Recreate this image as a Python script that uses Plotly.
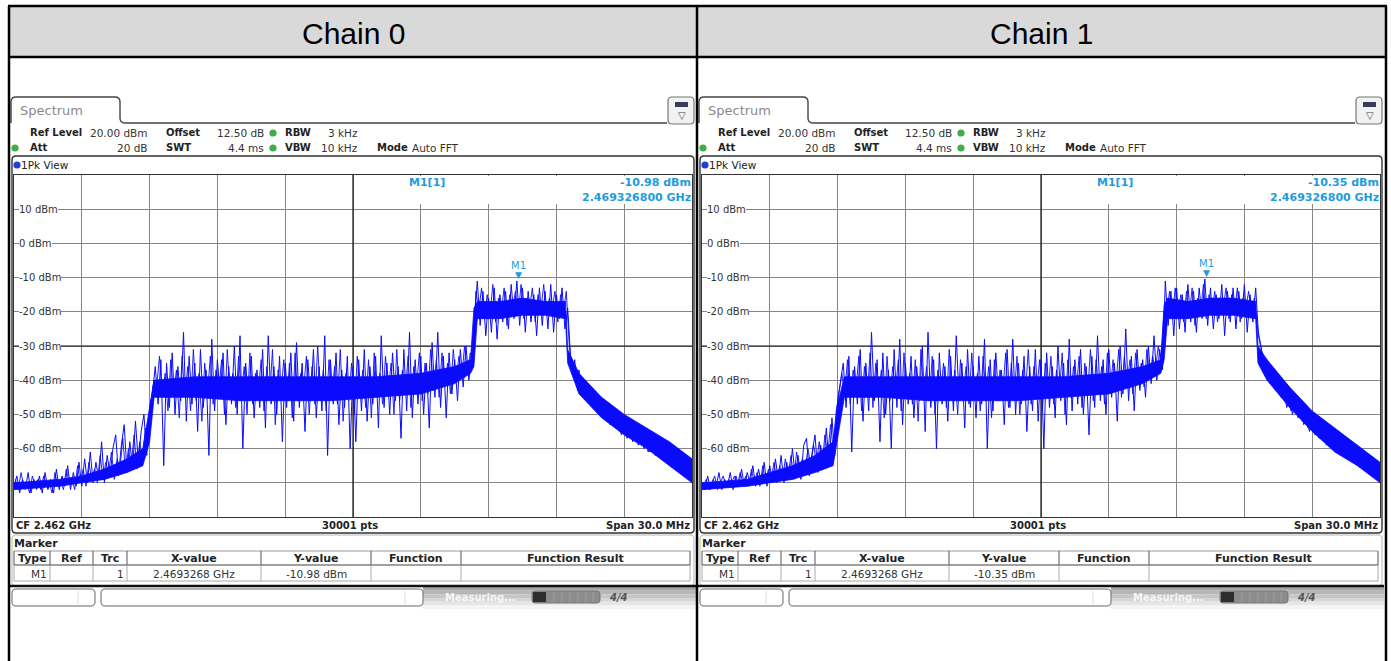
import plotly.graph_objects as go

W, H = 1391, 661
FONT = "DejaVu Sans"

# ---------------- data ----------------
chain_titles = ["Chain 0", "Chain 1"]
center_freq_ghz = 2.462
span_mhz = 30.0
sweep_points_label = "30001 pts"
ref_level_dbm = 20.0
y_bottom_dbm = -80.0
y_label_values = [10, 0, -10, -20, -30, -40, -50, -60]
marker_freq_ghz = [2.4693268, 2.4693268]
marker_level_dbm = [-10.98, -10.35]

# peak-detector trace (peaks and dips), evenly spread over the span
trace_chain0_dbm = [
    -71, -68, -73, -69, -72, -67, -73, -69, -72, -68,
    -73, -67, -72, -69, -73, -66, -72, -68, -71, -65,
    -72, -67, -71, -64, -71, -63, -70, -61, -70, -64,
    -69, -58, -70, -62, -68, -60, -56, -68, -59, -53,
    -67, -58, -66, -52, -64, -55, -50, -62, -48, -44,
    -36, -47, -34, -65, -35, -48, -32, -50, -36, -46,
    -26, -52, -33, -47, -35, -55, -31, -48, -37, -62,
    -28, -49, -34, -45, -32, -53, -36, -47, -30, -50,
    -27, -60, -35, -46, -33, -51, -37, -48, -31, -54,
    -27, -47, -36, -50, -33, -58, -35, -46, -32, -52,
    -29, -48, -35, -55, -34, -46, -31, -51, -36, -49,
    -27, -62, -34, -47, -32, -53, -37, -48, -33, -60,
    -36, -58, -34, -49, -31, -52, -36, -47, -33, -54,
    -27, -48, -35, -50, -32, -46, -36, -57, -31, -49,
    -26, -51, -34, -47, -33, -50, -35, -54, -29, -45,
    -26, -48, -33, -51, -32, -44, -34, -46, -31, -42,
    -30, -40, -33, -21, -11, -24, -14, -27, -16, -26,
    -13, -28, -15, -23, -14, -25, -12, -22, -11, -24,
    -13, -26, -14, -23, -15, -27, -13, -24, -14, -25,
    -12, -26, -15, -22, -13, -25, -19, -33, -36, -40,
    -37, -44, -40, -46, -42, -48, -44, -50, -46, -51,
    -47, -53, -49, -54, -50, -56, -51, -57, -53, -58,
    -54, -59, -55, -60, -56, -61, -57, -62, -58, -63,
    -59, -64, -60, -65, -61, -66, -62, -67, -63, -69,
    -66,
]
# in-between samples (half a step later)
trace_chain0_mid_dbm = [
    -69, -72, -67, -71, -70, -73, -68, -71, -69, -72,
    -68, -71, -70, -73, -67, -71, -69, -72, -66, -70,
    -69, -72, -65, -70, -66, -71, -64, -69, -66, -70,
    -62, -69, -64, -67, -61, -69, -63, -66, -57, -67,
    -60, -65, -56, -66, -58, -63, -54, -57, -46, -40,
    -42, -33, -45, -38, -49, -34, -44, -37, -51, -33,
    -45, -36, -49, -31, -46, -38, -52, -35, -44, -33,
    -47, -37, -43, -34, -50, -31, -45, -38, -48, -33,
    -44, -36, -50, -32, -47, -38, -43, -34, -49, -36,
    -45, -31, -53, -37, -44, -34, -48, -35, -51, -32,
    -46, -38, -43, -33, -50, -36, -47, -30, -45, -37,
    -49, -34, -44, -36, -47, -31, -52, -38, -46, -35,
    -50, -33, -44, -37, -48, -34, -51, -32, -45, -38,
    -47, -33, -43, -35, -50, -31, -46, -37, -44, -33,
    -48, -36, -42, -32, -46, -35, -44, -31, -43, -34,
    -45, -32, -41, -35, -44, -31, -40, -33, -39, -30,
    -38, -32, -35, -14, -20, -13, -22, -15, -21, -12,
    -23, -16, -20, -13, -24, -15, -19, -14, -21, -12,
    -22, -16, -19, -13, -23, -15, -20, -12, -21, -16,
    -19, -14, -23, -15, -20, -14, -29, -38, -34, -43,
    -40, -42, -44, -43, -46, -45, -48, -47, -50, -48,
    -52, -50, -53, -52, -55, -53, -56, -55, -57, -56,
    -58, -57, -59, -58, -61, -59, -60, -61, -62, -61,
    -63, -62, -64, -63, -65, -64, -66, -65, -68, -67,
]

trace_chain1_dbm = [
    -70, -72, -68, -72, -69, -71, -67, -72, -69, -71,
    -67, -72, -68, -71, -66, -71, -67, -70, -65, -71,
    -66, -70, -64, -71, -65, -70, -63, -69, -62, -70,
    -64, -69, -60, -68, -62, -69, -59, -57, -68, -61,
    -56, -67, -59, -66, -54, -65, -51, -62, -46, -40,
    -35, -48, -33, -61, -36, -47, -31, -52, -35, -49,
    -26, -46, -34, -58, -32, -50, -37, -60, -31, -48,
    -28, -53, -35, -47, -33, -51, -36, -46, -30, -55,
    -26, -48, -34, -60, -32, -47, -36, -52, -33, -49,
    -27, -46, -35, -54, -31, -48, -36, -51, -33, -47,
    -28, -60, -34, -49, -32, -46, -37, -53, -31, -48,
    -28, -50, -35, -47, -33, -55, -36, -49, -31, -52,
    -34, -60, -32, -48, -36, -51, -30, -46, -35, -53,
    -28, -49, -34, -47, -31, -50, -36, -56, -33, -48,
    -27, -46, -34, -50, -31, -45, -35, -52, -30, -44,
    -25, -46, -33, -49, -31, -43, -34, -45, -30, -41,
    -27, -40, -31, -37, -11, -24, -14, -27, -13, -25,
    -15, -26, -12, -23, -14, -26, -13, -22, -10.4, -24,
    -13, -25, -15, -22, -12, -27, -14, -23, -13, -25,
    -14, -22, -12, -26, -15, -23, -13, -27, -31, -37,
    -34, -40, -37, -42, -40, -45, -43, -48, -45, -50,
    -46, -51, -48, -53, -50, -55, -51, -56, -52, -57,
    -54, -59, -55, -60, -56, -61, -57, -62, -58, -63,
    -59, -64, -60, -65, -61, -66, -63, -67, -64, -69,
    -66,
]
trace_chain1_mid_dbm = [
    -71, -69, -72, -70, -68, -72, -70, -68, -71, -69,
    -70, -68, -71, -67, -70, -68, -71, -66, -70, -67,
    -71, -65, -70, -66, -69, -64, -70, -65, -69, -63,
    -68, -62, -69, -61, -67, -63, -66, -60, -65, -59,
    -64, -58, -65, -56, -62, -53, -60, -49, -44, -38,
    -44, -34, -47, -37, -43, -33, -49, -36, -45, -32,
    -48, -35, -44, -37, -51, -33, -46, -36, -43, -34,
    -49, -32, -45, -38, -47, -34, -52, -31, -44, -36,
    -46, -33, -50, -37, -44, -35, -48, -31, -45, -37,
    -50, -34, -43, -36, -47, -32, -45, -38, -49, -33,
    -44, -36, -51, -34, -46, -37, -43, -32, -48, -35,
    -45, -33, -50, -37, -44, -31, -47, -36, -43, -34,
    -49, -35, -45, -33, -47, -37, -44, -32, -50, -34,
    -45, -36, -43, -33, -48, -35, -44, -31, -46, -34,
    -43, -36, -47, -32, -44, -34, -42, -31, -45, -33,
    -41, -34, -44, -32, -40, -35, -42, -31, -39, -33,
    -37, -30, -35, -20, -21, -14, -22, -13, -20, -15,
    -23, -14, -21, -13, -24, -16, -20, -12, -22, -15,
    -21, -14, -23, -16, -19, -13, -22, -15, -20, -13,
    -23, -16, -19, -14, -21, -16, -24, -29, -33, -36,
    -39, -38, -41, -41, -44, -44, -46, -46, -49, -48,
    -50, -49, -52, -51, -54, -53, -55, -54, -57, -55,
    -58, -57, -59, -58, -60, -59, -61, -61, -62, -62,
    -63, -63, -64, -64, -65, -65, -66, -66, -68, -67,
]
traces_dbm = [trace_chain0_dbm, trace_chain1_dbm]
traces_mid_dbm = [trace_chain0_mid_dbm, trace_chain1_mid_dbm]

# dense core of the trace (offset from CF in MHz, upper / lower edge in dBm)
core0_offset_mhz = [-15, -13, -12, -11, -10, -9.3, -9.0, -8.8, -7, -5, -3, -1, 1, 3, 4.5,
                    5.2, 5.35, 5.5, 6.5, 7.5, 8.5, 9.4, 9.5, 10, 11, 12, 13, 14, 15]
core0_upper_dbm = [-70, -69, -68, -66, -63, -60, -48, -40, -39, -39, -39, -39, -39, -38, -36,
                   -34, -19, -17, -17, -16, -17, -17, -31, -38, -45, -50, -54, -58, -63]
core0_lower_dbm = [-72, -71, -70, -69, -67, -65, -58, -45, -45, -46, -46, -46, -45, -44, -41,
                   -38, -36, -22, -22, -21, -21, -22, -35, -44, -51, -56, -60, -65, -70]

core1_offset_mhz = [-15, -13, -12, -11, -10, -9.2, -9.0, -8.7, -7, -5, -3, -1, 1, 3, 4.5,
                    5.3, 5.45, 5.6, 6.5, 7.5, 8.5, 9.5, 9.6, 10, 11, 12, 13, 14, 15]
core1_upper_dbm = [-70, -69, -67, -65, -62, -58, -47, -39, -39, -39, -39, -39, -39, -38, -36,
                   -34, -18, -16, -17, -16, -16, -17, -30, -34, -42, -49, -54, -59, -64]
core1_lower_dbm = [-72, -71, -70, -69, -67, -65, -57, -45, -45, -46, -46, -46, -45, -44, -41,
                   -38, -34, -22, -22, -21, -21, -22, -35, -40, -48, -55, -61, -65, -70]
cores = [(core0_offset_mhz, core0_upper_dbm, core0_lower_dbm),
         (core1_offset_mhz, core1_upper_dbm, core1_lower_dbm)]

# ---------------- helpers (pixel -> paper) ----------------
def PX(x):
    return x / W


def PY(y):
    return 1 - y / H


shapes = []
anns = []


def line(x0, y0, x1, y1, color="#333", width=1.0, layer="above"):
    shapes.append(dict(type="line", xref="paper", yref="paper",
                       x0=PX(x0), y0=PY(y0), x1=PX(x1), y1=PY(y1),
                       line=dict(color=color, width=width), layer=layer))


def rect(x0, y0, x1, y1, fill=None, color=None, width=0, layer="above"):
    d = dict(type="rect", xref="paper", yref="paper",
             x0=PX(x0), y0=PY(y0), x1=PX(x1), y1=PY(y1), layer=layer,
             line=dict(color=color or "rgba(0,0,0,0)", width=width))
    if fill:
        d["fillcolor"] = fill
    shapes.append(d)


def rrect(x0, y0, x1, y1, r, color="#333", width=1.0, fill=None, layer="above"):
    def p(x, y):
        return f"{PX(x):.6f},{PY(y):.6f}"
    path = (f"M{p(x0 + r, y0)} L{p(x1 - r, y0)} Q{p(x1, y0)} {p(x1, y0 + r)} "
            f"L{p(x1, y1 - r)} Q{p(x1, y1)} {p(x1 - r, y1)} L{p(x0 + r, y1)} "
            f"Q{p(x0, y1)} {p(x0, y1 - r)} L{p(x0, y0 + r)} Q{p(x0, y0)} {p(x0 + r, y0)} Z")
    d = dict(type="path", xref="paper", yref="paper", path=path, layer=layer,
             line=dict(color=color, width=width))
    if fill:
        d["fillcolor"] = fill
    shapes.append(d)


def dot(cx, cy, r, fill):
    shapes.append(dict(type="circle", xref="paper", yref="paper",
                       x0=PX(cx - r), y0=PY(cy + r), x1=PX(cx + r), y1=PY(cy - r),
                       fillcolor=fill, line=dict(width=0), layer="above"))


def txt(x, y, s, size=10, bold=False, color="#222", anchor="left", family=FONT, bg=None):
    a = dict(x=PX(x), y=PY(y), xref="paper", yref="paper",
             text=f"<b>{s}</b>" if bold else s, showarrow=False,
             xanchor=anchor, yanchor="middle", borderpad=0, borderwidth=0,
             font=dict(family=family, size=size, color=color))
    if bg:
        a["bgcolor"] = bg
    anns.append(a)


# ---------------- figure ----------------
fig = go.Figure()

x_lo = center_freq_ghz - span_mhz / 2000.0
x_hi = center_freq_ghz + span_mhz / 2000.0
plot_y_top, plot_y_bot = 175, 517
offsets = [0, 688]
axis_names = [("x", "y"), ("x2", "y2")]
MBLUE = "#1e9be0"
TRACE_BLUE = "#0a0aff"

for k, ox in enumerate(offsets):
    xa, ya = axis_names[k]

    # darker centre line and -30 dBm line
    fig.add_trace(go.Scatter(x=[center_freq_ghz, center_freq_ghz], y=[y_bottom_dbm, ref_level_dbm],
                             mode="lines", line=dict(color="#111", width=1.2),
                             xaxis=xa, yaxis=ya, hoverinfo="skip", showlegend=False))
    fig.add_trace(go.Scatter(x=[x_lo, x_hi], y=[-30, -30],
                             mode="lines", line=dict(color="#111", width=1.2),
                             xaxis=xa, yaxis=ya, hoverinfo="skip", showlegend=False))

    # dense core band
    off, up, lo = cores[k]
    fx = [center_freq_ghz + o / 1000.0 for o in off]
    fig.add_trace(go.Scatter(x=fx + fx[::-1], y=up + lo[::-1], mode="lines",
                             fill="toself", fillcolor=TRACE_BLUE,
                             line=dict(color=TRACE_BLUE, width=0.8),
                             xaxis=xa, yaxis=ya, hoverinfo="skip", showlegend=False))

    # peak trace (main samples + in-between samples)
    vals = traces_dbm[k]
    dx = (x_hi - x_lo) / (len(vals) - 1)
    fig.add_trace(go.Scatter(y=traces_mid_dbm[k], x0=x_lo + dx / 2, dx=dx, mode="lines",
                             line=dict(color=TRACE_BLUE, width=0.9),
                             xaxis=xa, yaxis=ya, hoverinfo="skip", showlegend=False))
    fig.add_trace(go.Scatter(y=vals, x0=x_lo, dx=dx, mode="lines",
                             line=dict(color=TRACE_BLUE, width=1),
                             xaxis=xa, yaxis=ya, hoverinfo="skip", showlegend=False))

    xkey = "xaxis" if k == 0 else "xaxis2"
    ykey = "yaxis" if k == 0 else "yaxis2"
    fig.update_layout(**{
        xkey: dict(domain=[PX(14 + ox), PX(692 + ox)], range=[x_lo, x_hi],
                   tick0=x_lo, dtick=(x_hi - x_lo) / 10, showticklabels=False,
                   ticks="", showgrid=True, gridcolor="#858585", gridwidth=1,
                   zeroline=False, showline=True, linecolor="#333", linewidth=1.2,
                   mirror=True, anchor=ya, fixedrange=True),
        ykey: dict(domain=[PY(plot_y_bot), PY(plot_y_top)],
                   range=[y_bottom_dbm, ref_level_dbm], dtick=10,
                   showticklabels=False, ticks="", showgrid=True,
                   gridcolor="#858585", gridwidth=1, zeroline=False,
                   showline=True, linecolor="#333", linewidth=1.2, mirror=True,
                   anchor=xa, fixedrange=True),
    })

    # white area behind marker readout
    rect(360 + ox, 176, 691 + ox, 204, fill="white", layer="above")

    # tab + frame line
    def p(x, y):
        return f"{PX(x + ox):.6f},{PY(y):.6f}"
    tab = (f"M{p(11, 123)} L{p(11, 102)} Q{p(11, 97)} {p(16, 97)} L{p(115, 97)} "
           f"Q{p(120, 97)} {p(120, 102)} L{p(120, 118)} Q{p(120, 123)} {p(125, 123)} "
           f"L{p(667, 123)}")
    shapes.append(dict(type="path", xref="paper", yref="paper", path=tab,
                       line=dict(color="#444", width=1.4), layer="above"))
    txt(20 + ox, 111, "Spectrum", size=13, color="#8a8a8a")

    # icon
    rrect(668 + ox, 97, 694 + ox, 124, 4, color="#777", width=1.2, fill="#f2f2f2")
    rect(675 + ox, 102, 688 + ox, 107, fill="#3a3a5a")
    txt(681.5 + ox, 115, "▽", size=10, color="#444", anchor="center")

    # info lines
    txt(30 + ox, 133, "Ref Level", size=10, bold=True)
    txt(148 + ox, 133, "20.00 dBm", size=10.5, anchor="right", color="#333")
    txt(166 + ox, 133, "Offset", size=10, bold=True)
    txt(264 + ox, 133, "12.50 dB", size=10.5, anchor="right", color="#333")
    dot(273 + ox, 133, 3.6, "#3fae49")
    txt(285 + ox, 133, "RBW", size=10, bold=True)
    txt(358 + ox, 133, "3 kHz", size=10.5, anchor="right", color="#333")

    dot(15 + ox, 148, 3.6, "#3fae49")
    txt(30 + ox, 148, "Att", size=10, bold=True)
    txt(148 + ox, 148, "20 dB", size=10.5, anchor="right", color="#333")
    txt(166 + ox, 148, "SWT", size=10, bold=True)
    txt(264 + ox, 148, "4.4 ms", size=10.5, anchor="right", color="#333")
    dot(273 + ox, 148, 3.6, "#3fae49")
    txt(285 + ox, 148, "VBW", size=10, bold=True)
    txt(358 + ox, 148, "10 kHz", size=10.5, anchor="right", color="#333")
    txt(377 + ox, 148, "Mode", size=10, bold=True)
    txt(412 + ox, 148, "Auto FFT", size=10.5, color="#333")

    # panel box
    rrect(12 + ox, 156, 694 + ox, 533, 4, color="#333", width=1.4)
    dot(17 + ox, 165, 3.6, "#1f3fd8")
    txt(21 + ox, 165, "1Pk View", size=10.5, color="#222")

    # marker readout
    lvl = marker_level_dbm[k]
    frq = marker_freq_ghz[k]
    txt(409 + ox, 182, "M1[1]", size=11, bold=True, color=MBLUE)
    txt(691 + ox, 182, f"{lvl:.2f} dBm", size=11, bold=True, color=MBLUE, anchor="right")
    txt(691 + ox, 197, f"{frq:.9f} GHz", size=11, bold=True, color=MBLUE, anchor="right")

    # y labels
    for v in y_label_values:
        py = plot_y_top + (ref_level_dbm - v) / (ref_level_dbm - y_bottom_dbm) * (plot_y_bot - plot_y_top)
        txt(19 + ox, py, f"{v} dBm", size=10, color="#333", bg="white")

    # marker symbol on the trace
    anns.append(dict(x=frq, y=lvl, xref=xa, yref=ya, text="▼", showarrow=False,
                     xanchor="center", yanchor="bottom", yshift=-1,
                     font=dict(family=FONT, size=9, color=MBLUE)))
    anns.append(dict(x=frq, y=lvl, xref=xa, yref=ya, text="M1", showarrow=False,
                     xanchor="center", yanchor="bottom", yshift=8,
                     font=dict(family=FONT, size=10, color=MBLUE)))

    # bottom status line of diagram
    txt(16 + ox, 525, f"CF {center_freq_ghz:.3f} GHz", size=10, bold=True)
    txt(350 + ox, 525, sweep_points_label, size=10, bold=True, anchor="center")
    txt(690 + ox, 525, f"Span {span_mhz:.1f} MHz", size=10, bold=True, anchor="right")

    # marker table
    rrect(12 + ox, 535, 694 + ox, 586, 4, color="#b5b5b5", width=1)
    txt(14 + ox, 543, "Marker", size=11, bold=True)
    line(14 + ox, 551, 690 + ox, 551, color="#999", width=1)
    line(14 + ox, 565, 690 + ox, 565, color="#444", width=1.2)
    line(14 + ox, 581, 690 + ox, 581, color="#aaa", width=1)
    for cx in [14, 50, 93, 127, 261, 371, 461, 690]:
        line(cx + ox, 551, cx + ox, 565, color="#555", width=1)
        line(cx + ox, 565, cx + ox, 581, color="#aaa", width=1)
    for cx, s in [(32, "Type"), (71.5, "Ref"), (110, "Trc"), (194, "X-value"),
                  (316, "Y-value"), (416, "Function"), (575, "Function Result")]:
        txt(cx + ox, 558, s, size=11, bold=True, anchor="center")
    txt(47 + ox, 573.5, "M1", size=10.5, anchor="right", color="#333")
    txt(124 + ox, 573.5, "1", size=10.5, anchor="right", color="#333")
    txt(194 + ox, 573.5, f"{frq:.7f} GHz", size=10.5, anchor="center", color="#333")
    txt(316 + ox, 573.5, f"{lvl:.2f} dBm", size=10.5, anchor="center", color="#333")

    # status bar
    grads = ["#a6a6a6", "#b6b6b6", "#c6c6c6", "#d6d6d6", "#e6e6e6", "#f4f4f4"]
    for gi, gc in enumerate(grads):
        rect(423 + ox, 587 + gi * 3.7, 696 + ox, 587 + (gi + 1) * 3.7, fill=gc)
    line(10 + ox, 586, 696 + ox, 586, color="#111", width=2.5)
    rrect(12 + ox, 589, 95 + ox, 606, 4, color="#666", width=1, fill="white")
    line(78 + ox, 591, 78 + ox, 604, color="#ddd", width=1)
    rrect(101 + ox, 589, 423 + ox, 606, 4, color="#666", width=1, fill="white")
    line(405 + ox, 591, 405 + ox, 604, color="#ddd", width=1)
    txt(445 + ox, 597, "Measuring...", size=10, bold=True, color="rgba(255,255,255,0.85)")
    rrect(532 + ox, 591, 600 + ox, 603, 3, color="#777", width=1, fill="#8c8c8c")
    rect(533 + ox, 592, 546 + ox, 602, fill="#2e2e2e")
    for sx in [554, 562, 570, 578, 586, 593]:
        line(sx + ox, 592, sx + ox, 602, color="#a0a0a0", width=1)
    txt(618 + ox, 597, "<i>4/4</i>", size=10, bold=True, color="#555", anchor="center")

# ---------------- outer table ----------------
rect(9, 6, 1386, 57, fill="#d9d9d9", layer="above")
line(8, 6, 1387, 6, color="#000", width=2.5)
line(9, 6, 9, 661, color="#000", width=2.5)
line(1386, 6, 1386, 661, color="#000", width=2.5)
line(697, 6, 697, 661, color="#000", width=2.5)
line(9, 57, 1386, 57, color="#000", width=2.5)
txt(353, 33, chain_titles[0], size=30, color="#000", anchor="center", family="Liberation Sans")
txt(1041.5, 33, chain_titles[1], size=30, color="#000", anchor="center", family="Liberation Sans")

fig.update_layout(width=W, height=H, autosize=False,
                  margin=dict(l=0, r=0, t=0, b=0, pad=0),
                  paper_bgcolor="white", plot_bgcolor="white",
                  showlegend=False, shapes=shapes, annotations=anns)

fig.write_html("out.html", config={"displayModeBar": False},
               post_script="document.body.style.margin='0px';")
